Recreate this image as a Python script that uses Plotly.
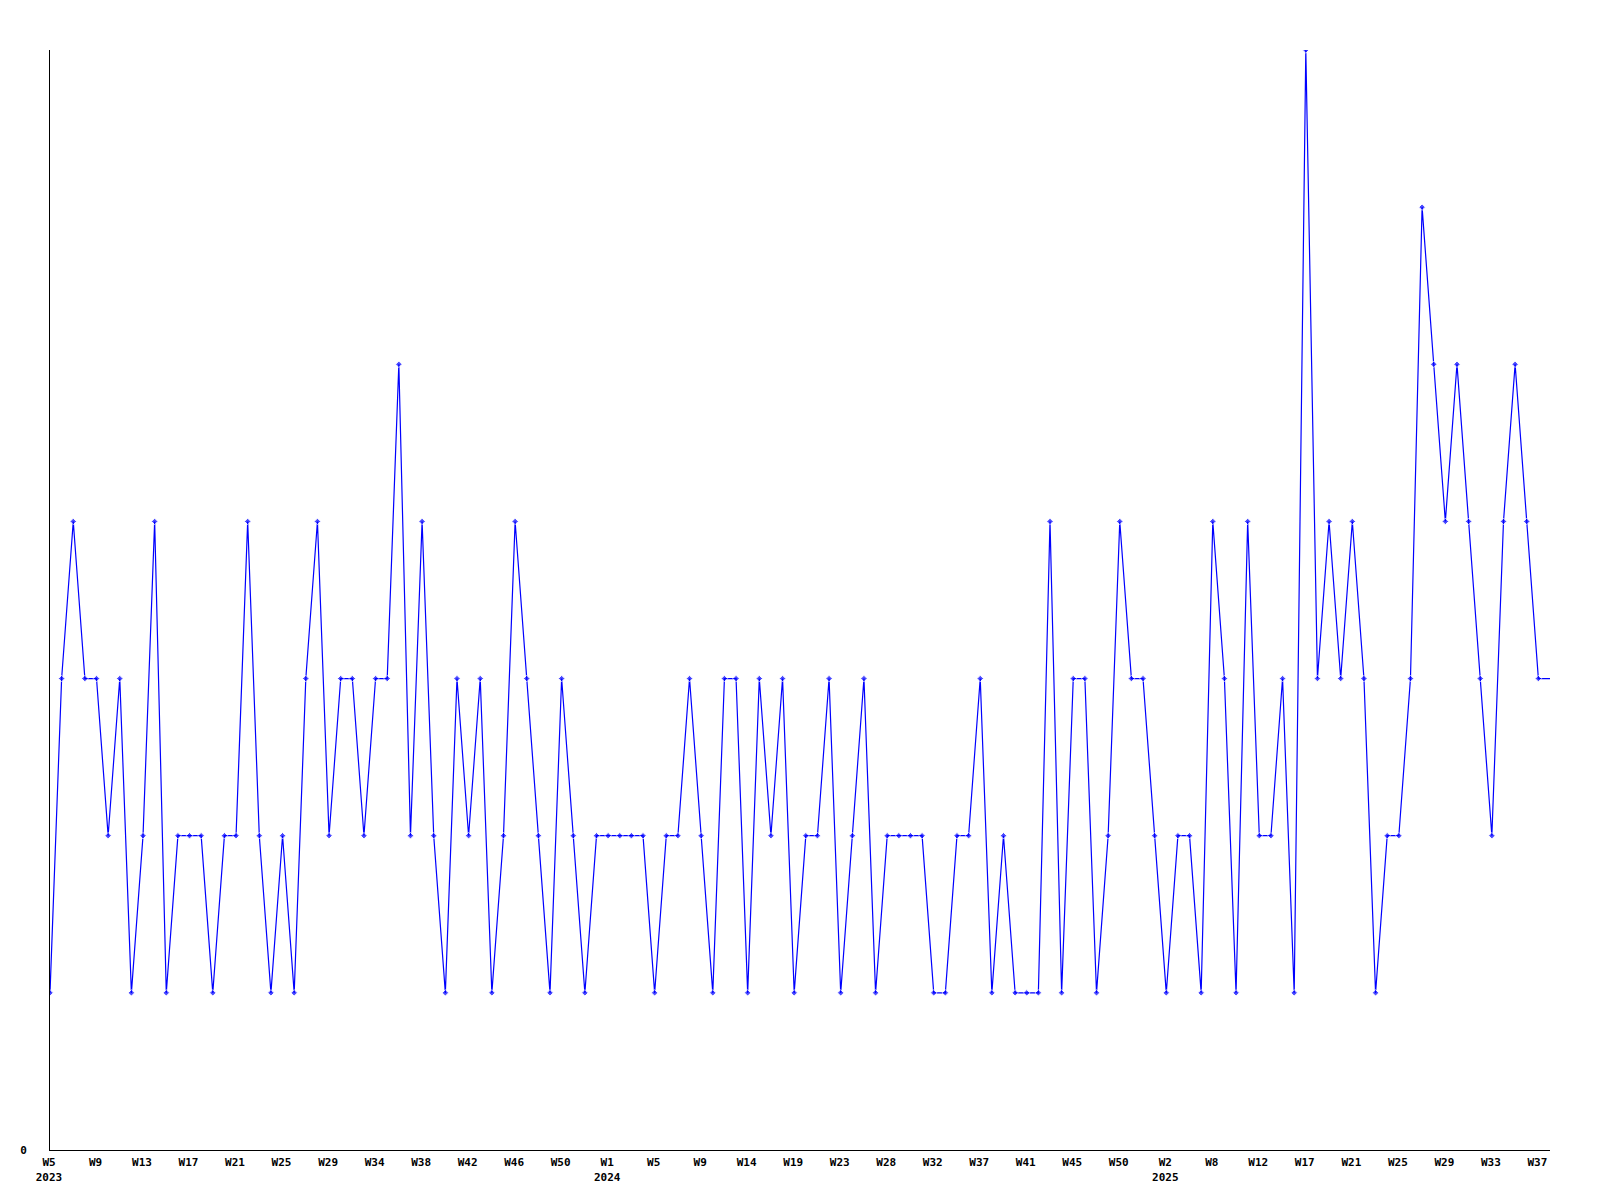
import plotly.graph_objects as go

# Weekly values (one per plotted point; last point runs to the right edge)
values = [
    1, 3, 4, 3, 3, 2, 3, 1, 2, 4,
    1, 2, 2, 2, 1, 2, 2, 4, 2, 1,
    2, 1, 3, 4, 2, 3, 3, 2, 3, 3,
    5, 2, 4, 2, 1, 3, 2, 3, 1, 2,
    4, 3, 2, 1, 3, 2, 1, 2, 2, 2,
    2, 2, 1, 2, 2, 3, 2, 1, 3, 3,
    1, 3, 2, 3, 1, 2, 2, 3, 1, 2,
    3, 1, 2, 2, 2, 2, 1, 1, 2, 2,
    3, 1, 2, 1, 1, 1, 4, 1, 3, 3,
    1, 2, 4, 3, 3, 2, 1, 2, 2, 1,
    4, 3, 1, 4, 2, 2, 3, 1, 7, 3,
    4, 3, 4, 3, 1, 2, 2, 3, 6, 5,
    4, 5, 4, 3, 2, 4, 5, 4, 3,
    3,
]

# Tick labels, one every 4 points
tick_weeks = [
    "W5", "W9", "W13", "W17", "W21", "W25", "W29", "W34", "W38", "W42", "W46", "W50",
    "W1", "W5", "W9", "W14", "W19", "W23", "W28", "W32", "W37", "W41", "W45", "W50",
    "W2", "W8", "W12", "W17", "W21", "W25", "W29", "W33", "W37",
]
tick_years = {0: "2023", 12: "2024", 24: "2025"}
tick_step = 4

x = list(range(len(values)))
tickvals = [i * tick_step for i in range(len(tick_weeks))]
ticktext = [
    w + ("<br>" + tick_years[i] if i in tick_years else "")
    for i, w in enumerate(tick_weeks)
]

marker_sizes = [5] * (len(values) - 1) + [0]

fig = go.Figure()
fig.add_trace(go.Scatter(
    x=x, y=values, mode="lines+markers",
    line=dict(color="#0000FF", width=1.2),
    marker=dict(symbol="diamond", size=marker_sizes, color="#0000FF"),
    hoverinfo="x+y", showlegend=False, cliponaxis=True,
))

font = dict(family="DejaVu Sans Mono", size=11, color="#000000", weight="bold")

fig.update_layout(
    width=1592, height=1192, autosize=False,
    margin=dict(l=42, r=50, t=42, b=50, pad=0),
    paper_bgcolor="white", plot_bgcolor="white",
    font=font,
    xaxis=dict(
        range=[0, len(values) - 1], tickmode="array", tickvals=tickvals, ticktext=ticktext,
        showgrid=False, zeroline=False, showline=True, linecolor="black", linewidth=1,
        ticks="", tickfont=font, ticklabelshift=-1, ticklabelstandoff=2,
    ),
    yaxis=dict(
        range=[0, 7], tickmode="array", tickvals=[0], ticktext=["0"],
        showgrid=False, zeroline=False, showline=True, linecolor="black", linewidth=1,
        ticks="", tickfont=font, ticklabelstandoff=20,
    ),
)

fig.write_html("out.html")
